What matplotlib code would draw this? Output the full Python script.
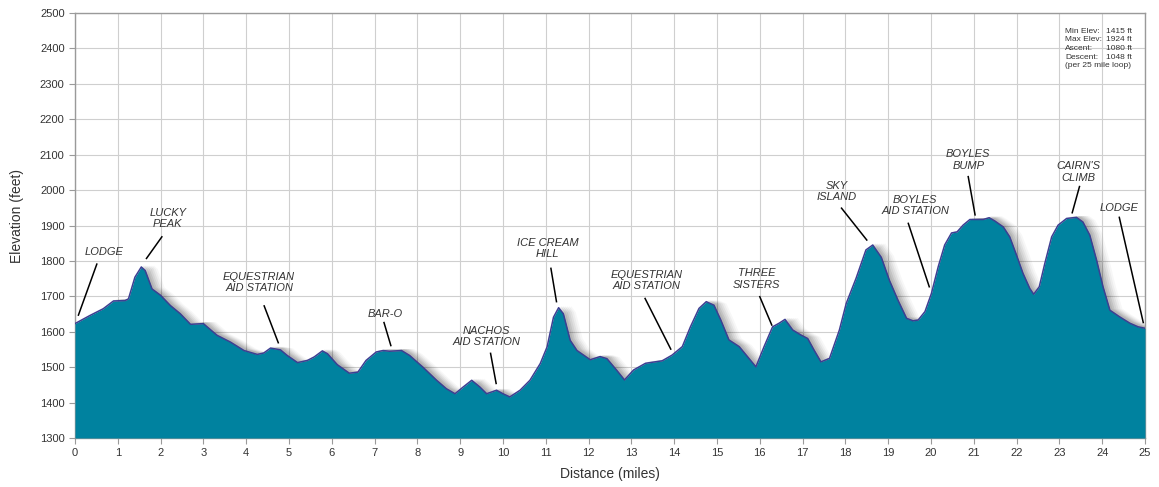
import matplotlib
matplotlib.use("Agg")
import matplotlib.pyplot as plt
import matplotlib.transforms as mtransforms

# course profile (miles, feet)
dist = [0.0, 0.35, 0.66, 0.9, 1.17, 1.25, 1.4, 1.55, 1.64, 1.8, 2.0, 2.23, 2.46, 2.7, 3.0,
        3.32, 3.63, 3.95, 4.26, 4.41, 4.57, 4.8, 4.96, 5.2, 5.43, 5.59, 5.78, 5.9, 6.13,
        6.41, 6.61, 6.8, 7.04, 7.2, 7.35, 7.63, 7.82, 8.13, 8.45, 8.68, 8.88, 9.07, 9.27,
        9.46, 9.62, 9.85, 10.0, 10.16, 10.4, 10.63, 10.87, 11.03, 11.18, 11.3, 11.41,
        11.57, 11.73, 12.04, 12.27, 12.43, 12.66, 12.84, 13.05, 13.33, 13.72, 13.95,
        14.19, 14.38, 14.58, 14.75, 14.93, 15.09, 15.28, 15.52, 15.71, 15.91, 16.1, 16.3,
        16.45, 16.59, 16.77, 16.96, 17.12, 17.27, 17.43, 17.63, 17.86, 18.02, 18.25,
        18.48, 18.64, 18.84, 19.03, 19.23, 19.43, 19.58, 19.7, 19.86, 20.01, 20.17,
        20.32, 20.48, 20.61, 20.75, 20.91, 21.06, 21.22, 21.36, 21.49, 21.69, 21.84,
        22.0, 22.15, 22.31, 22.4, 22.53, 22.66, 22.82, 22.97, 23.17, 23.4, 23.55, 23.71,
        23.87, 24.02, 24.18, 24.41, 24.65, 24.84, 25.0]
elev = [1623, 1646, 1665, 1687, 1688, 1693, 1754, 1783, 1773, 1721, 1703, 1674, 1651, 1621, 1623,
        1590, 1571, 1547, 1536, 1540, 1554, 1549, 1533, 1513, 1519, 1529, 1546, 1538, 1507,
        1483, 1486, 1519, 1543, 1547, 1545, 1547, 1533, 1500, 1463, 1439, 1425, 1444, 1463,
        1444, 1425, 1435, 1425, 1416, 1435, 1463, 1510, 1557, 1641, 1668, 1651,
        1576, 1547, 1521, 1530, 1524, 1491, 1464, 1492, 1511, 1518, 1534,
        1558, 1614, 1666, 1685, 1675, 1633, 1577, 1558, 1530, 1501, 1558, 1614,
        1624, 1635, 1605, 1591, 1581, 1548, 1515, 1525, 1605, 1680, 1751,
        1831, 1845, 1810, 1745, 1689, 1638, 1631, 1633, 1657, 1708, 1784,
        1845, 1879, 1882, 1901, 1917, 1917, 1917, 1922, 1913, 1896, 1868,
        1816, 1765, 1722, 1706, 1727, 1793, 1868, 1901, 1920, 1923, 1910, 1873,
        1802, 1727, 1661, 1642, 1624, 1614, 1610]

# landmark callouts: text, text position, leader line start / end
marks = ["LODGE", "LUCKY\nPEAK", "EQUESTRIAN\nAID STATION", "BAR-O", "NACHOS\nAID STATION",
         "ICE CREAM\nHILL", "EQUESTRIAN\nAID STATION", "THREE\nSISTERS", "SKY\nISLAND",
         "BOYLES\nAID STATION", "BOYLES\nBUMP", "CAIRN'S\nCLIMB", "LODGE"]
mark_xy = [(0.68, 1825), (2.17, 1920), (4.3, 1738), (7.26, 1649), (9.62, 1587),
           (11.04, 1834), (13.36, 1745), (15.93, 1749), (17.8, 1996),
           (19.63, 1957), (20.87, 2085), (23.44, 2051), (24.4, 1949)]
line_from = [(0.51, 1791), (2.03, 1868), (4.42, 1673), (7.22, 1626), (9.71, 1539),
             (11.12, 1779), (13.32, 1694), (16.0, 1699), (17.91, 1949),
             (19.47, 1906), (20.87, 2038), (23.47, 2010), (24.4, 1923)]
line_to = [(0.08, 1647), (1.67, 1807), (4.75, 1569), (7.38, 1561), (9.84, 1454),
           (11.25, 1685), (13.92, 1551), (16.28, 1619), (18.5, 1859),
           (19.96, 1727), (21.03, 1930), (23.3, 1936), (24.96, 1626)]

stat_names = ["Min Elev:", "Max Elev:", "Ascent:", "Descent:"]
stat_values = ["1415 ft", "1924 ft", "1080 ft", "1048 ft"]

plt.rcParams['font.family'] = ['Liberation Sans', 'DejaVu Sans']

fig = plt.figure(figsize=(11.59, 4.87), dpi=100)
ax = fig.add_axes([0.0647, 0.1006, 0.9232, 0.8727])

# soft shadow to the right of the profile
for dx, a in [(2, 0.08), (4, 0.07), (6, 0.06), (8, 0.05), (10, 0.04), (12, 0.03)]:
    tr = mtransforms.offset_copy(ax.transData, fig=fig, x=dx, y=2, units='dots')
    ax.fill_between(dist, elev, 1300, color='black', alpha=a, lw=0, transform=tr, zorder=2)

ax.fill_between(dist, elev, 1300, color='#00829f', lw=0, zorder=3)
ax.plot(dist, elev, color='#3d3f92', lw=1.1, zorder=4)

for txt, (tx, ty), (x0, y0), (x1, y1) in zip(marks, mark_xy, line_from, line_to):
    ax.text(tx, ty, txt, ha='center', va='center', fontsize=8, style='italic',
            color='#333333', linespacing=1.15, zorder=5)
    ax.plot([x0, x1], [y0, y1], color='black', lw=1.1, zorder=5)

# summary box, top right
for i, (n, v) in enumerate(zip(stat_names, stat_values)):
    y = 2449 - i * 24.5
    ax.text(23.13, y, n, fontsize=6, color='#333333', va='center', zorder=5)
    ax.text(24.7, y, v, fontsize=6, color='#333333', va='center', ha='right', zorder=5)
ax.text(23.13, 2351, "(per 25 mile loop)", fontsize=6, color='#333333', va='center', zorder=5)

ax.set_xlim(0, 25)
ax.set_ylim(1300, 2500)
ax.set_xticks(range(0, 26))
ax.set_yticks(range(1300, 2501, 100))
ax.grid(True, color='#cfcfcf', lw=0.8, zorder=0)
ax.set_axisbelow(True)
for s in ax.spines.values():
    s.set_color('#9a9a9a')
    s.set_linewidth(1.0)
ax.tick_params(colors='#9a9a9a', labelcolor='#333333', labelsize=8, length=4, width=0.8)

fig.text(0.015, 0.5567, "Elevation (feet)", rotation=90, ha='center', va='center',
         fontsize=10, color='#333333')
fig.text(0.526, 0.027, "Distance (miles)", ha='center', va='center',
         fontsize=10, color='#333333')

fig.savefig("out.png", dpi=100)
